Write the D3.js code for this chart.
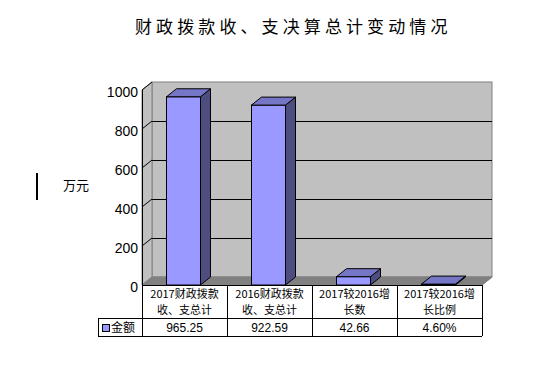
<!DOCTYPE html>
<html>
<head>
<meta charset="utf-8">
<script src="https://cdn.jsdelivr.net/npm/d3@7"></script>
<style>
  body { margin: 0; background: #fff; }
  text { font-family: "Liberation Sans", "Noto Sans CJK SC", sans-serif; fill: #000; }
  .cjk { font-family: "Noto Sans CJK SC", sans-serif; }
</style>
</head>
<body>
<script>
// 数据
const categories = ['2017财政拨款|收、支总计', '2016财政拨款|收、支总计', '2017较2016增|长数', '2017较2016增|长比例'];
const values = [965.25, 922.59, 42.66, 4.60];
const valueSuffix = ['', '', '', '%'];
const yTicks = [0, 200, 400, 600, 800, 1000];
const seriesName = '金额';
const title = '财政拨款收、支决算总计变动情况';
const unit = '万元';

const width = 536, height = 366;
const DX = 10, DY = 8; // 3D 进深偏移

const svg = d3.select('body').append('svg')
  .attr('width', width)
  .attr('height', height);

const x = d3.scaleBand().domain(categories).range([142, 482]);
const y = d3.scaleLinear().domain([0, 1000]).range([285, 90]);
const barW = x.bandwidth() * 0.4;

// 标题
svg.append('text')
  .attr('class', 'cjk')
  .attr('x', 135).attr('y', 33)
  .style('font-size', '17px')
  .style('letter-spacing', '4.1px')
  .text(title);

// 左侧竖线和单位
svg.append('rect').attr('x', 36).attr('y', 173).attr('width', 2).attr('height', 27).attr('fill', '#000');
svg.append('text')
  .attr('class', 'cjk')
  .attr('x', 63).attr('y', 190)
  .style('font-size', '13px')
  .text(unit);

const xl = x.range()[0], xr = x.range()[1];

// 背景墙
svg.append('rect')
  .attr('x', xl + DX).attr('y', y(1000) - DY)
  .attr('width', xr - xl).attr('height', y(0) - y(1000))
  .attr('fill', '#c0c0c0').attr('stroke', '#808080');

// 侧墙
svg.append('polygon')
  .attr('points', [[xl, y(1000)], [xl + DX, y(1000) - DY], [xl + DX, y(0) - DY], [xl, y(0)]].join(' '))
  .attr('fill', '#c0c0c0').attr('stroke', '#808080');

// 底面
svg.append('polygon')
  .attr('points', [[xl, y(0)], [xl + DX, y(0) - DY], [xr + DX, y(0) - DY], [xr, y(0)]].join(' '))
  .attr('fill', '#808080').attr('stroke', '#808080');

// 网格线
const grid = yTicks.filter(d => d > 0 && d < 1000);
svg.selectAll('.grid')
  .data(grid)
  .enter().append('line')
  .attr('x1', xl + DX).attr('x2', xr + DX)
  .attr('y1', d => y(d) - DY + 0.5).attr('y2', d => y(d) - DY + 0.5)
  .attr('stroke', '#000');

svg.selectAll('.wall-tick')
  .data(yTicks.filter(d => d > 0))
  .enter().append('line')
  .attr('x1', xl).attr('x2', xl + DX)
  .attr('y1', d => y(d)).attr('y2', d => y(d) - DY)
  .attr('stroke', '#000');

// 柱子
const bars = svg.selectAll('.bar')
  .data(values)
  .enter().append('g');

const bx = (d, i) => x(categories[i]) + (x.bandwidth() - barW) / 2 - 1;

bars.append('rect')
  .attr('x', bx)
  .attr('y', d => y(d))
  .attr('width', barW)
  .attr('height', d => y(0) - y(d))
  .attr('fill', '#9999ff').attr('stroke', '#000');

bars.append('polygon')
  .attr('points', (d, i) => {
    const a = bx(d, i) + barW;
    return [[a, y(d)], [a + DX, y(d) - DY], [a + DX, y(0) - DY], [a, y(0)]].join(' ');
  })
  .attr('fill', '#4d4d80').attr('stroke', '#000');

bars.append('polygon')
  .attr('points', (d, i) => {
    const a = bx(d, i);
    return [[a, y(d)], [a + DX, y(d) - DY], [a + barW + DX, y(d) - DY], [a + barW, y(d)]].join(' ');
  })
  .attr('fill', '#7676c6').attr('stroke', '#000');

// 纵轴
svg.append('line')
  .attr('x1', xl + 0.5).attr('x2', xl + 0.5)
  .attr('y1', y(1000)).attr('y2', 336)
  .attr('stroke', '#000');

const yAxis = svg.append('g')
  .attr('transform', `translate(${xl},2)`)
  .call(d3.axisLeft(y).tickValues(yTicks).tickFormat(d3.format('d')).tickSize(0).tickPadding(4));
yAxis.select('.domain').remove();
yAxis.selectAll('text')
  .style('font-family', '"Liberation Sans", sans-serif')
  .style('font-size', '14px');

// 数据表
const tTop = 285, tMid = 318, tBot = 336, tLeft = 98;
const table = svg.append('g').attr('stroke', '#000').attr('shape-rendering', 'crispEdges');
table.append('line').attr('x1', xl).attr('x2', xr).attr('y1', tTop).attr('y2', tTop);
table.append('line').attr('x1', tLeft).attr('x2', xr).attr('y1', tMid).attr('y2', tMid);
table.append('line').attr('x1', tLeft).attr('x2', xr).attr('y1', tBot).attr('y2', tBot);
table.append('line').attr('x1', tLeft).attr('x2', tLeft).attr('y1', tMid).attr('y2', tBot);
table.selectAll('.col')
  .data(categories)
  .enter().append('line')
  .attr('x1', d => x(d) + x.bandwidth()).attr('x2', d => x(d) + x.bandwidth())
  .attr('y1', tTop).attr('y2', tBot);

// 斜线 (底面右前角)
svg.append('line')
  .attr('x1', xr).attr('y1', y(0))
  .attr('x2', xr + DX).attr('y2', y(0) - DY)
  .attr('stroke', '#808080');

// 表头两行分开写
[0, 1].forEach(k => {
  svg.selectAll('.head' + k)
    .data(categories)
    .enter().append('text')
    .attr('class', 'cjk')
    .attr('text-anchor', 'middle')
    .attr('x', d => x(d) + x.bandwidth() / 2)
    .attr('y', k === 0 ? 298 : 314)
    .style('font-size', '11px')
    .text(d => d.split('|')[k]);
});

svg.selectAll('.val')
  .data(values)
  .enter().append('text')
  .attr('text-anchor', 'middle')
  .attr('x', (d, i) => x(categories[i]) + x.bandwidth() / 2)
  .attr('y', 332)
  .style('font-size', '12px')
  .text((d, i) => d.toFixed(2) + valueSuffix[i]);

// 图例
svg.append('rect')
  .attr('x', 102.5).attr('y', 324.5).attr('width', 7).attr('height', 7)
  .attr('fill', '#9999ff').attr('stroke', '#000');
svg.append('text')
  .attr('class', 'cjk')
  .attr('x', 111).attr('y', 332)
  .style('font-size', '12px')
  .text(seriesName);
</script>
</body>
</html>
